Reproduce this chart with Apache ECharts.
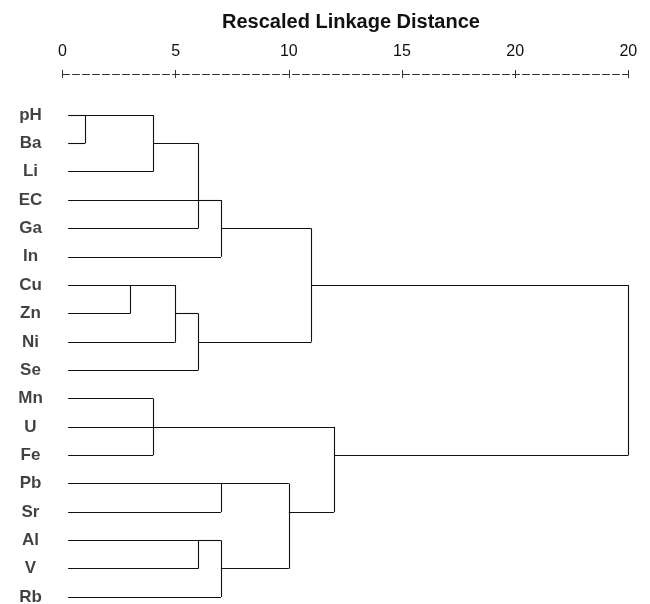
<!DOCTYPE html>
<html>
<head>
<meta charset="utf-8">
<script src="https://cdn.jsdelivr.net/npm/echarts@6/dist/echarts.min.js"></script>
<style>
  html, body { margin: 0; padding: 0; background: #fff; }
  #chart { width: 650px; height: 604px; }
</style>
</head>
<body>
<div id="chart"></div>
<script>
// Leaves in dendrogram order (top to bottom)
const leafNames = ['pH', 'Ba', 'Li', 'EC', 'Ga', 'In', 'Cu', 'Zn', 'Ni', 'Se',
                   'Mn', 'U', 'Fe', 'Pb', 'Sr', 'Al', 'V', 'Rb'];

// Agglomeration schedule: node ids 0..17 are leaves, each merge creates node 18, 19, ...
const mergeChildren = [
  [0, 1], [18, 2], [19, 4], [20, 3, 5],
  [6, 7], [22, 8], [23, 9], [21, 24],
  [10, 11, 12], [13, 14], [15, 16], [28, 17],
  [27, 29], [26, 30], [25, 31]
];
// Rescaled distance at which each merge happens
const mergeDistance = [1, 4, 6, 7, 3, 5, 6, 11, 4, 7, 6, 7, 10, 12, 25];
// Leaf row on which each merged cluster's branch continues
const mergeRow = [0, 1, 3, 4, 6, 7, 8, 6, 11, 13, 15, 16, 14, 12, 9];

// Axis tick labels as printed
const tickLabels = ['0', '5', '10', '15', '20', '20'];
const leafStart = 0.25;

// Build the branch segments from the schedule
const nodes = leafNames.map((n, i) => ({ x: leafStart, row: i }));
const segments = [];
mergeChildren.forEach((kids, m) => {
  const d = mergeDistance[m];
  let lo = Infinity, hi = -Infinity;
  kids.forEach(k => {
    const nd = nodes[k];
    segments.push({ coords: [[nd.x, nd.row], [d, nd.row]] });
    lo = Math.min(lo, nd.row);
    hi = Math.max(hi, nd.row);
  });
  segments.push({ coords: [[d, lo], [d, hi]] });
  nodes.push({ x: d, row: mergeRow[m] });
});

const FONT = '"Liberation Sans", Arial, Helvetica, sans-serif';
const chart = echarts.init(document.getElementById('chart'));
chart.setOption({
  animation: false,
  backgroundColor: '#ffffff',
  title: {
    text: 'Rescaled Linkage Distance',
    left: 346,
    top: 7,
    textAlign: 'center',
    textStyle: { fontFamily: FONT, fontWeight: 'bold', fontSize: 20, color: '#111' }
  },
  grid: { left: 62.5, top: 74, width: 565.8, height: 523 },
  xAxis: [
    {
      type: 'value', position: 'top', min: 0, max: 25, interval: 5,
      splitLine: { show: false },
      axisLine: { show: true, onZero: false, lineStyle: { color: '#333', width: 1, type: [7, 3] } },
      axisTick: { show: true, length: 4, lineStyle: { color: '#333', width: 1 } },
      axisLabel: {
        show: true, margin: 14, fontFamily: FONT, fontSize: 16, color: '#111',
        formatter: v => tickLabels[Math.round(v / 5)]
      }
    },
    {
      type: 'value', position: 'top', min: 0, max: 25, interval: 5,
      splitLine: { show: false },
      axisLine: { show: false, onZero: false },
      axisTick: { show: true, inside: true, length: 4, lineStyle: { color: '#333', width: 1 } },
      axisLabel: { show: false }
    }
  ],
  yAxis: {
    type: 'value', inverse: true, min: -1.446, max: 17,
    show: false
  },
  series: [
    {
      type: 'lines',
      coordinateSystem: 'cartesian2d',
      xAxisIndex: 0,
      data: segments,
      lineStyle: { color: '#111', width: 1.1, opacity: 1 },
      silent: true,
      clip: false
    },
    {
      type: 'scatter',
      xAxisIndex: 0,
      symbolSize: 0,
      data: leafNames.map((n, i) => [0, i]),
      label: {
        show: true, position: 'inside', offset: [-32, 0],
        formatter: p => leafNames[p.dataIndex],
        fontFamily: FONT, fontWeight: 'bold', fontSize: 17, color: '#111'
      },
      silent: true,
      clip: false
    }
  ]
});
</script>
</body>
</html>
